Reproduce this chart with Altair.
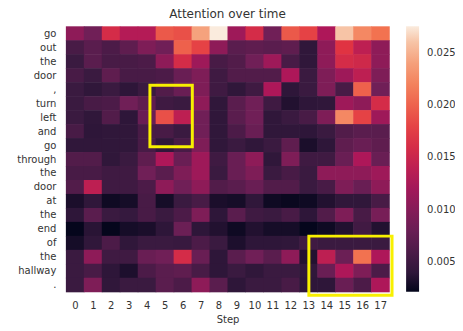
import json
import altair as alt
import pandas as pd

tokens = ["go", "out", "the", "door", ",", "turn", "left", "and", "go", "through",
          "the", "door", "at", "the", "end", "of", "the", "hallway", "."]
steps = list(range(18))

r00_go = [0.0106, 0.0085, 0.0159, 0.0133, 0.0133, 0.0194, 0.0188, 0.0242, 0.0275, 0.0117, 0.0159, 0.0085, 0.0194, 0.0179, 0.0128, 0.0260, 0.0224, 0.0209]
r01_out = [0.0057, 0.0070, 0.0060, 0.0073, 0.0095, 0.0085, 0.0199, 0.0179, 0.0106, 0.0070, 0.0073, 0.0070, 0.0073, 0.0041, 0.0106, 0.0169, 0.0140, 0.0106]
r02_the = [0.0047, 0.0070, 0.0057, 0.0057, 0.0060, 0.0106, 0.0159, 0.0117, 0.0057, 0.0064, 0.0085, 0.0117, 0.0057, 0.0041, 0.0106, 0.0159, 0.0154, 0.0106]
r03_door = [0.0057, 0.0047, 0.0073, 0.0057, 0.0057, 0.0060, 0.0080, 0.0095, 0.0050, 0.0064, 0.0064, 0.0064, 0.0128, 0.0047, 0.0095, 0.0117, 0.0140, 0.0095]
r04_comma = [0.0047, 0.0041, 0.0047, 0.0040, 0.0047, 0.0064, 0.0080, 0.0095, 0.0050, 0.0041, 0.0050, 0.0128, 0.0040, 0.0047, 0.0095, 0.0057, 0.0199, 0.0085]
r05_turn = [0.0047, 0.0057, 0.0060, 0.0085, 0.0073, 0.0050, 0.0047, 0.0106, 0.0041, 0.0070, 0.0085, 0.0050, 0.0035, 0.0040, 0.0041, 0.0117, 0.0106, 0.0159]
r06_left = [0.0047, 0.0041, 0.0064, 0.0040, 0.0080, 0.0188, 0.0140, 0.0085, 0.0041, 0.0070, 0.0085, 0.0041, 0.0047, 0.0057, 0.0095, 0.0224, 0.0179, 0.0117]
r07_and = [0.0057, 0.0040, 0.0041, 0.0041, 0.0057, 0.0057, 0.0047, 0.0085, 0.0041, 0.0060, 0.0080, 0.0041, 0.0041, 0.0040, 0.0047, 0.0064, 0.0070, 0.0070]
r08_go = [0.0041, 0.0041, 0.0041, 0.0041, 0.0057, 0.0041, 0.0057, 0.0095, 0.0041, 0.0047, 0.0041, 0.0047, 0.0073, 0.0032, 0.0040, 0.0073, 0.0080, 0.0073]
r09_through = [0.0064, 0.0064, 0.0041, 0.0047, 0.0073, 0.0128, 0.0080, 0.0117, 0.0050, 0.0080, 0.0106, 0.0041, 0.0095, 0.0050, 0.0050, 0.0080, 0.0128, 0.0080]
r10_the = [0.0057, 0.0057, 0.0050, 0.0050, 0.0085, 0.0070, 0.0095, 0.0117, 0.0047, 0.0080, 0.0095, 0.0047, 0.0057, 0.0047, 0.0106, 0.0106, 0.0106, 0.0117]
r11_door = [0.0064, 0.0140, 0.0050, 0.0050, 0.0060, 0.0106, 0.0085, 0.0106, 0.0064, 0.0070, 0.0080, 0.0064, 0.0064, 0.0047, 0.0057, 0.0095, 0.0080, 0.0106]
r12_at = [0.0032, 0.0041, 0.0027, 0.0030, 0.0057, 0.0030, 0.0047, 0.0057, 0.0032, 0.0030, 0.0041, 0.0027, 0.0025, 0.0027, 0.0035, 0.0041, 0.0041, 0.0057]
r13_the = [0.0040, 0.0070, 0.0047, 0.0043, 0.0057, 0.0047, 0.0060, 0.0095, 0.0040, 0.0070, 0.0050, 0.0047, 0.0057, 0.0040, 0.0064, 0.0095, 0.0057, 0.0090]
r14_end = [0.0023, 0.0038, 0.0023, 0.0030, 0.0032, 0.0040, 0.0082, 0.0040, 0.0035, 0.0027, 0.0035, 0.0030, 0.0030, 0.0023, 0.0027, 0.0035, 0.0052, 0.0035]
r15_of = [0.0030, 0.0041, 0.0060, 0.0041, 0.0047, 0.0047, 0.0045, 0.0060, 0.0047, 0.0033, 0.0040, 0.0040, 0.0041, 0.0050, 0.0047, 0.0047, 0.0047, 0.0047]
r16_the = [0.0047, 0.0106, 0.0050, 0.0050, 0.0080, 0.0085, 0.0159, 0.0080, 0.0040, 0.0070, 0.0085, 0.0070, 0.0106, 0.0035, 0.0140, 0.0082, 0.0209, 0.0128]
r17_hallway = [0.0047, 0.0057, 0.0040, 0.0033, 0.0060, 0.0070, 0.0073, 0.0057, 0.0040, 0.0047, 0.0041, 0.0047, 0.0047, 0.0041, 0.0080, 0.0128, 0.0095, 0.0060]
r18_period = [0.0047, 0.0095, 0.0041, 0.0047, 0.0047, 0.0070, 0.0060, 0.0106, 0.0070, 0.0040, 0.0047, 0.0047, 0.0057, 0.0040, 0.0040, 0.0080, 0.0060, 0.0128]

rows = [r00_go, r01_out, r02_the, r03_door, r04_comma, r05_turn, r06_left, r07_and,
        r08_go, r09_through, r10_the, r11_door, r12_at, r13_the, r14_end, r15_of,
        r16_the, r17_hallway, r18_period]

# highlight boxes (data units: columns / rows)
box_x0 = [4.68, 13.53]
box_x1 = [7.04, 18.16]
box_y0 = [4.22, 15.02]
box_y1 = [8.62, 19.26]

color_domain = [0.0022, 0.0275]
legend_ticks = [0.005, 0.010, 0.015, 0.020, 0.025]
rocket = ["#03051A", "#35193E", "#521C4A", "#701F57", "#8E1B58", "#AD1759", "#C7254D",
          "#E13342", "#EA5449", "#F37651", "#F49570", "#F6B48F", "#FAEBDD"]

recs = []
for r, row in enumerate(rows):
    for c, v in enumerate(row):
        recs.append({"x0": c, "x1": c + 1, "y0": r, "y1": r + 1, "value": v})
df = pd.DataFrame(recs)
boxes = pd.DataFrame({"x0": box_x0, "x1": box_x1, "y0": box_y0, "y1": box_y1})

FONT = "DejaVu Sans"
TXT = "#333333"

xscale = alt.Scale(domain=[0, len(steps)], nice=False, zero=False)
yscale = alt.Scale(domain=[0, len(tokens)], nice=False, zero=False, reverse=True)

ylabel_expr = "[" + ",".join(json.dumps(t) for t in tokens) + "][floor(datum.value)]"

xaxis = alt.Axis(values=[s + 0.5 for s in steps], labelExpr="'' + floor(datum.value)",
                 ticks=False, domain=False, grid=False, title="Step",
                 labelPadding=9, titlePadding=4, labelAngle=0, labelOverlap=False,
                 titleColor=TXT, labelColor=TXT)
yaxis = alt.Axis(values=[i + 0.5 for i in range(len(tokens))], labelExpr=ylabel_expr,
                 ticks=False, domain=False, grid=False, title=None, labelPadding=10,
                 labelOverlap=False, labelColor=TXT)

cscale = alt.Scale(domain=color_domain, range=rocket, interpolate="rgb")

heat = alt.Chart(df).mark_rect(x2Offset=0.6, y2Offset=0.6).encode(
    x=alt.X("x0:Q", scale=xscale, axis=xaxis),
    x2="x1:Q",
    y=alt.Y("y0:Q", scale=yscale, axis=yaxis),
    y2="y1:Q",
    color=alt.Color("value:Q", scale=cscale,
                    legend=alt.Legend(type="gradient", orient="none", legendX=341, legendY=0,
                                      direction="vertical", gradientLength=266,
                                      gradientThickness=13, title=None,
                                      values=legend_ticks, format=".3f",
                                      labelFontSize=10, labelFont=FONT, labelColor=TXT,
                                      labelOffset=8, gradientStrokeWidth=0,
                                      labelOverlap=False)),
)

box_layer = alt.Chart(boxes).mark_rect(fillOpacity=0, stroke="#f8f000", strokeWidth=3).encode(
    x=alt.X("x0:Q", scale=xscale, axis=xaxis), x2="x1:Q",
    y=alt.Y("y0:Q", scale=yscale, axis=yaxis), y2="y1:Q"
)

chart = alt.layer(heat, box_layer).properties(
    width=324, height=266,
    title=alt.TitleParams("Attention over time", fontSize=12, font=FONT,
                          fontWeight="normal", color=TXT, offset=5),
    autosize=alt.AutoSizeParams(type="none"),
    padding={"left": 58, "top": 18, "right": 66, "bottom": 33},
).configure_axis(
    labelFont=FONT, labelFontSize=10, labelColor=TXT, labelOverlap=False,
    titleFont=FONT, titleFontSize=10, titleColor=TXT, titleFontWeight="normal",
).configure_view(stroke=None)

chart.save("out.html", embed_options={"renderer": "svg", "actions": False})
